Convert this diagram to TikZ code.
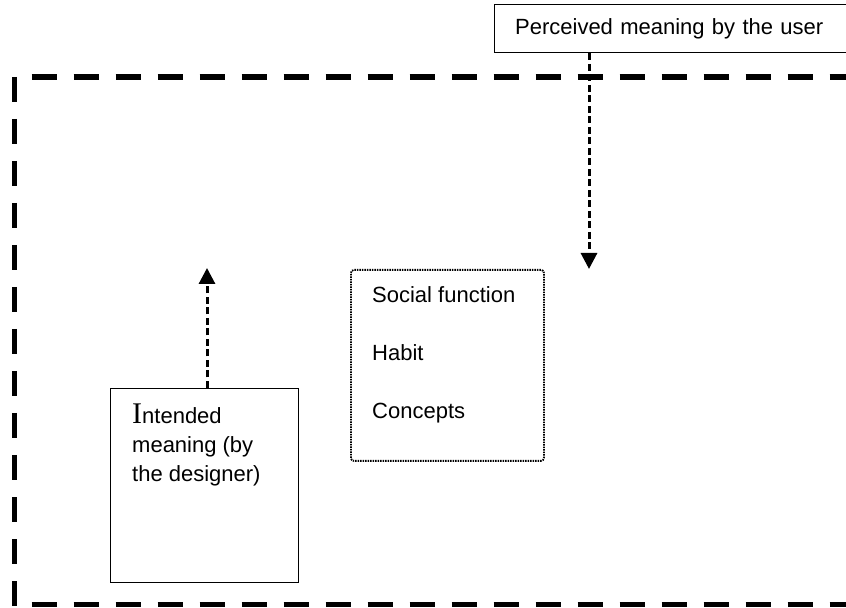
\documentclass[tikz,border=0pt]{standalone}
\usepackage{fontspec}
\setmainfont{Liberation Sans}
\newfontfamily\serifI{Liberation Serif}
\usetikzlibrary{arrows.meta}

\tikzset{
  plainbox/.style={draw, line width=1.3bp, inner sep=0pt},
  linkarrow/.style={line width=3bp, dash pattern=on 7bp off 3.5bp,
    -{Triangle[width=16bp,length=16bp]}},
}

\begin{document}
\begin{tikzpicture}[x=1bp, y=1bp, font=\fontsize{22bp}{29bp}\selectfont]
  \useasboundingbox (0,0) rectangle (846,608);
  \clip (0,0) rectangle (846,608);
  % outer frame, runs off the right edge
  \begin{scope}[line width=5.5bp, dash pattern=on 25bp off 17bp]
    \draw (14.5,531) -- (14.5,2);
    \draw[dash phase=25bp] (14.5,531) -- (900,531);
    \draw[dash phase=25bp] (14.5,3.5) -- (900,3.5);
  \end{scope}
  \coordinate (tipP) at (589,339); % perceived arrow tip
  \coordinate (tipI) at (207,340); % intended arrow tip
  % boxes
  \node[plainbox, anchor=north west, minimum height=48bp, text width=360bp,
    inner xsep=20.5bp, align=left] (perceived) at (494,604)
    {Perceived meaning by the user};
  \node[plainbox, anchor=north west, minimum width=188bp,
    minimum height=194bp] (intended) at (110,220) {};
  \node[anchor=north west, align=left, inner sep=0pt] (intendedtext) at (132,204)
    {{\serifI\fontsize{30bp}{30bp}\selectfont I}ntended\\meaning (by\\the designer)};
  \node[draw, line width=1.8bp, dash pattern=on 1.5bp off 1bp, rounded corners=3bp,
    anchor=north west, minimum width=193bp, minimum height=191bp] (drivers) at (350,339) {};
  % drivers
  \node[anchor=base west, inner sep=0pt] (social) at (372,305) {Social function};
  \node[anchor=base west, inner sep=0pt] (habit) at (372,247) {Habit};
  \node[anchor=base west, inner sep=0pt] (concepts) at (372,189) {Concepts};
  % arrows
  \draw[linkarrow] (perceived.south -| tipP) -- (tipP);
  \draw[linkarrow] (intended.north -| tipI) -- (tipI);
\end{tikzpicture}
\end{document}
